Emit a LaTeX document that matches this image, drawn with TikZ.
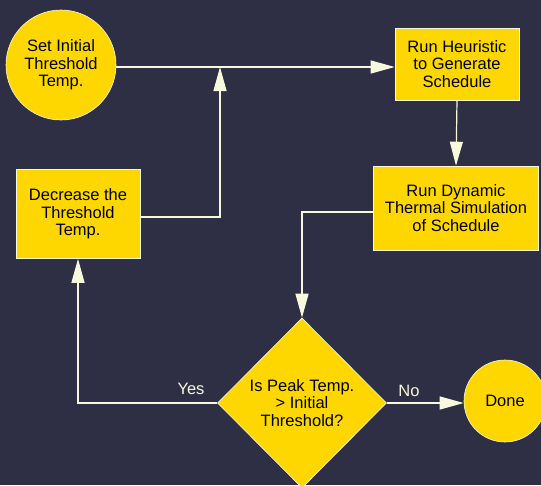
\documentclass[tikz,border=0pt]{standalone}
\usepackage{fontspec}
\setmainfont{Liberation Sans}
\usetikzlibrary{arrows.meta,shapes.geometric}
\definecolor{bg}{HTML}{2E2E44}
\definecolor{gold}{HTML}{FFD700}
\definecolor{cream}{HTML}{F8F8DC}
\tikzset{
  base/.style={fill=gold, draw=cream, line width=0.6pt, text=black, align=center, font=\fontsize{16.5}{17.5}\selectfont, inner sep=0pt},
  circ/.style={base, circle},
  boxn/.style={base, rectangle},
  dia/.style={base, diamond},
  conn/.style={draw=cream, line width=1.2pt},
  arr/.style={conn, -{Triangle[length=24pt,width=13pt,fill=cream]}},
  lbl/.style={text=cream, font=\fontsize{16.5}{17.5}\selectfont}
}
\begin{document}
\begin{tikzpicture}[x=1pt,y=-1pt]
\fill[bg] (0,0) rectangle (541,485);
\useasboundingbox (0,0) rectangle (541,485);
\begin{scope}
\clip (0,0) rectangle (541,485);
\node[circ, minimum size=110pt] (start) at (61,65) {Set Initial\\Threshold\\Temp.};
\node[boxn, minimum width=124pt, minimum height=72pt] (heur) at (457,64) {Run Heuristic\\to Generate\\Schedule};
\node[boxn, minimum width=165pt, minimum height=84pt] (dyn) at (456,208) {Run Dynamic\\Thermal Simulation\\of Schedule};
\node[boxn, minimum width=124pt, minimum height=89pt] (dec) at (78,214) {Decrease the\\Threshold\\Temp.};
\node[dia, minimum width=169pt, minimum height=170pt] (dia) at (302,403) {Is Peak Temp.\\> Initial\\Threshold?};
\node[circ, minimum size=82pt] (done) at (505,401) {Done};
\end{scope}
\coordinate (j1) at (220,67);
\draw[arr] (start.east |- j1) -- (heur.west |- j1);
\draw[arr] (dec.east |- 0,217) -| (j1);
\draw[arr] (heur.south) -- (dyn.north);
\draw[arr] (dyn.west |- 0,212) -| (dia.north);
\draw[arr] (dia.west) -| (dec.south);
\draw[arr] (dia.east) -- (done.west |- dia.east);
\node[lbl] (yes) at (191,389) {Yes};
\node[lbl] (no) at (409,391) {No};
\end{tikzpicture}
\end{document}
